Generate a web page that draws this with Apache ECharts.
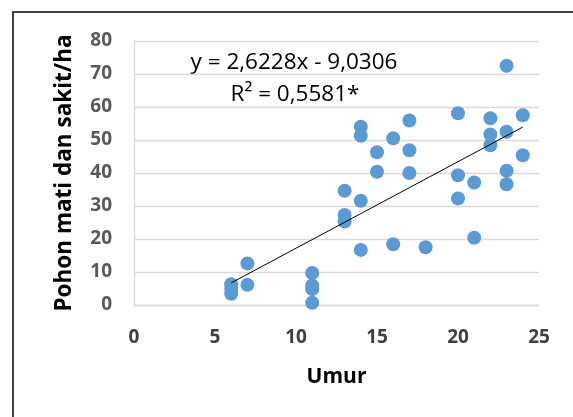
<!DOCTYPE html>
<html>
<head>
<meta charset="utf-8">
<script src="https://cdn.jsdelivr.net/npm/echarts@6/dist/echarts.min.js"></script>
<style>
  html, body { margin: 0; padding: 0; background: #fff; }
  #chart { width: 573px; height: 417px; }
</style>
</head>
<body>
<div id="chart"></div>
<script>
// umur (x) dan pohon mati dan sakit/ha (y)
const umur = [6, 6, 6, 7, 7, 11, 11, 11, 11, 13, 13, 13, 14, 14, 14, 14, 15, 15, 16, 16,
  17, 17, 17, 18, 20, 20, 20, 21, 21, 22, 22, 22, 23, 23, 23, 23, 24, 24];
const pohon = [6.3, 4.9, 3.4, 12.6, 6.1, 9.7, 5.9, 4.8, 0.7, 34.6, 27.3, 25.3, 54.0, 51.3, 31.6, 16.7, 46.3, 40.4, 50.5, 18.4,
  55.9, 46.9, 40.0, 17.5, 58.1, 39.3, 32.3, 37.1, 20.4, 56.6, 51.7, 48.4, 72.5, 52.5, 40.7, 36.6, 57.5, 45.4];
const xTicks = [0, 25, 5];   // min, max, interval
const yTicks = [0, 80, 10];
// garis tren: y = a*x + b
const trend = [2.6228, -9.0306];
const eqLabels = ['y = 2,6228x - 9,0306', 'R² = 0,5581*'];

const points = umur.map((x, i) => [x, pohon[i]]);
const xMin = Math.min(...umur), xMax = Math.max(...umur);
const trendLine = [xMin, xMax].map(x => [x, trend[0] * x + trend[1]]);

const chart = echarts.init(document.getElementById('chart'));
const font = '"Open Sans", sans-serif';
chart.setOption({
  animation: false,
  backgroundColor: '#fff',
  grid: { left: 134, right: 34, top: 41, bottom: 112 },
  xAxis: {
    type: 'value', min: xTicks[0], max: xTicks[1], interval: xTicks[2],
    name: 'Umur', nameLocation: 'middle', nameGap: 62,
    nameTextStyle: { fontFamily: font, fontWeight: 'bold', fontSize: 21, color: '#000' },
    axisLine: { show: true, lineStyle: { color: '#d9d9d9', width: 1.3 } },
    axisTick: { show: false },
    splitLine: { show: false },
    axisLabel: { fontFamily: font, fontWeight: 'bold', fontSize: 19, color: '#404040', margin: 23 }
  },
  yAxis: {
    type: 'value', min: yTicks[0], max: yTicks[1], interval: yTicks[2],
    name: 'Pohon mati dan sakit/ha', nameLocation: 'middle', nameGap: 58,
    nameTextStyle: { fontFamily: font, fontWeight: 'bold', fontSize: 22.5, color: '#000' },
    axisLine: { show: true, lineStyle: { color: '#d9d9d9', width: 1.3 } },
    axisTick: { show: false },
    splitLine: { show: true, lineStyle: { color: '#d9d9d9', width: 1.3 } },
    axisLabel: { fontFamily: font, fontWeight: 'bold', fontSize: 19, color: '#595959', margin: 22 }
  },
  graphic: [
    { type: 'rect', shape: { x: 13, y: 12, width: 700, height: 600 },
      style: { fill: 'none', stroke: '#000', lineWidth: 1.5 }, silent: true },
    { type: 'text', x: 294, y: 63, style: { text: eqLabels[0], font: '22.5px "Open Sans"', fill: '#000', align: 'center', verticalAlign: 'middle' } },
    { type: 'text', x: 295, y: 95, style: { text: eqLabels[1], font: '22.5px "Open Sans"', fill: '#000', align: 'center', verticalAlign: 'middle' } }
  ],
  series: [
    {
      type: 'scatter', data: points, symbolSize: 14,
      itemStyle: { color: '#5b9bd5', opacity: 1 }, z: 2
    },
    {
      type: 'line', data: trendLine, symbol: 'none',
      lineStyle: { color: '#000', width: 1 }, z: 3
    }
  ]
});
</script>
</body>
</html>
